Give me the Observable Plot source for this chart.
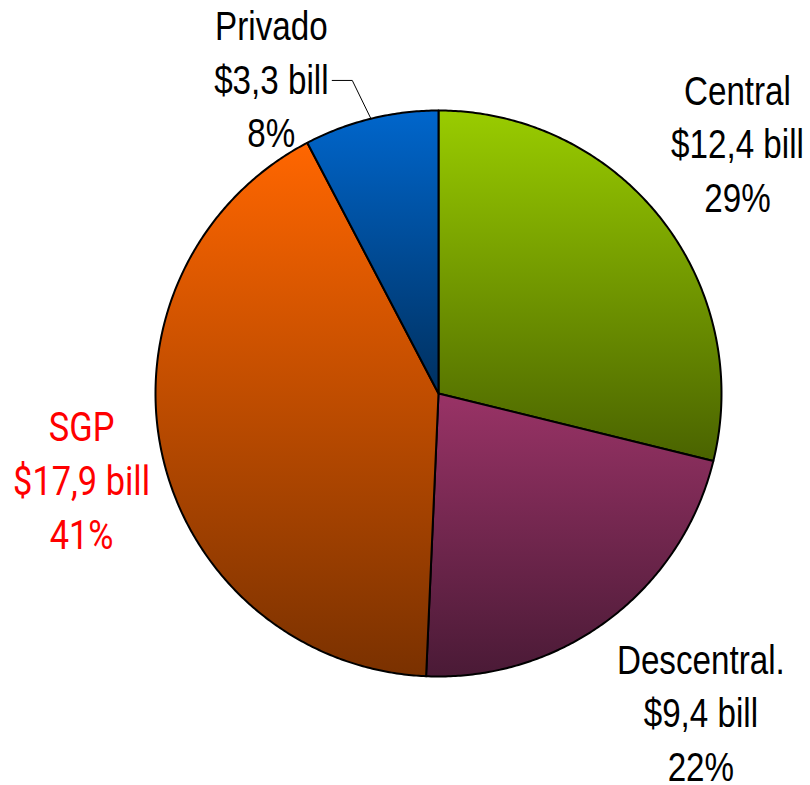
<!DOCTYPE html>
<html><head><meta charset="utf-8">
<script src="https://cdn.jsdelivr.net/npm/d3@7"></script>
<script src="https://cdn.jsdelivr.net/npm/@observablehq/plot@0.6"></script>
<style>body{margin:0;background:#fff}</style>
</head><body><div id="chart"></div>
<script>
// ---- data ----
const categories = ["Central", "Descentral.", "SGP", "Privado"];
const values = [12.4, 9.4, 17.9, 3.3];
const amountLabels = ["$12,4 bill", "$9,4 bill", "$17,9 bill", "$3,3 bill"];
const percentLabels = ["29%", "22%", "41%", "8%"];
const topColors = ["#99cc00", "#993366", "#ff6600", "#0066cc"];
const bottomColors = ["#4a6300", "#4a1a36", "#7a3100", "#00305f"];
const labelColors = ["#000000", "#000000", "#ff0000", "#000000"];

// ---- layout ----
const labelAngleDeg = [50.4, 140.9, 256.7, 331.9];
const labelRadius = [1.371, 1.470, 1.296, 1.254];
const labelShiftY = [-5, -6, 0, -4];
const labelFont = ["'Liberation Sans', Arial, sans-serif",
                   "'Liberation Sans', Arial, sans-serif",
                   "Roboto, 'Liberation Sans', sans-serif",
                   "'Liberation Sans', Arial, sans-serif"];
const labelSize = [40, 40, 40, 40];
const labelSquash = [0.83, 0.83, 0.86, 0.83];

const arcs = d3.pie().sort(null).value(d => d)(values);

function slicePoints(a) {
  const pts = [{x: 0, y: 0}];
  const n = Math.max(2, Math.ceil((a.endAngle - a.startAngle) / (Math.PI / 360)));
  for (let k = 0; k <= n; k++) {
    const t = a.startAngle + (a.endAngle - a.startAngle) * k / n;
    pts.push({x: Math.sin(t), y: Math.cos(t)});
  }
  return pts;
}

const labels = categories.map((c, i) => {
  const a = labelAngleDeg[i] * Math.PI / 180;
  return {
    text: `${c}\n${amountLabels[i]}\n${percentLabels[i]}`,
    x: labelRadius[i] * Math.sin(a),
    y: labelRadius[i] * Math.cos(a),
    color: labelColors[i], font: labelFont[i], size: labelSize[i], dy: labelShiftY[i]
  };
});

// leader line for Privado
const pIdx = 3;
const pMid = (arcs[pIdx].startAngle + arcs[pIdx].endAngle) / 2;
const leader = [
  {x: labels[pIdx].x + 0.215, y: labels[pIdx].y},
  {x: labels[pIdx].x + 0.286, y: labels[pIdx].y},
  {x: Math.sin(pMid), y: Math.cos(pMid)}
];

const defsMark = () => {
  const defs = d3.create("svg:defs");
  categories.forEach((c, i) => {
    const g = defs.append("linearGradient").attr("id", "grad" + i)
      .attr("x1", 0).attr("y1", 0).attr("x2", 0).attr("y2", 1);
    g.append("stop").attr("offset", "0%").attr("stop-color", topColors[i]);
    g.append("stop").attr("offset", "100%").attr("stop-color", bottomColors[i]);
  });
  return defs.node();
};

const marks = [defsMark];
arcs.forEach((a, i) => {
  marks.push(Plot.line(slicePoints(a), {
    x: "x", y: "y", curve: "linear-closed",
    fill: `url(#grad${i})`, stroke: "#000", strokeWidth: 2, strokeLinejoin: "round"
  }));
});
marks.push(Plot.line(leader, {x: "x", y: "y", stroke: "#000", strokeWidth: 1}));
labels.forEach(l => {
  marks.push(Plot.text([l], {
    x: "x", y: "y", text: "text", fill: l.color, fontFamily: l.font, fontSize: l.size,
    lineHeight: 1.34, textAnchor: "middle", lineAnchor: "middle", dy: l.dy
  }));
});

const chart = Plot.plot({
  width: 810, height: 785,
  marginLeft: 155, marginRight: 89, marginTop: 110, marginBottom: 109,
  x: {domain: [-1, 1], axis: null},
  y: {domain: [-1, 1], axis: null},
  style: {background: "#fff", overflow: "visible"},
  marks
});
// horizontally condense label text (narrow typeface look)
d3.select(chart).selectAll("g[aria-label='text']").each(function(_, i) {
  d3.select(this).selectAll("text").each(function() {
    const t = this.getAttribute("transform") || "";
    this.setAttribute("transform", `${t} scale(${labelSquash[i]},1)`);
  });
});
document.getElementById("chart").appendChild(chart);
</script>
</body></html>
